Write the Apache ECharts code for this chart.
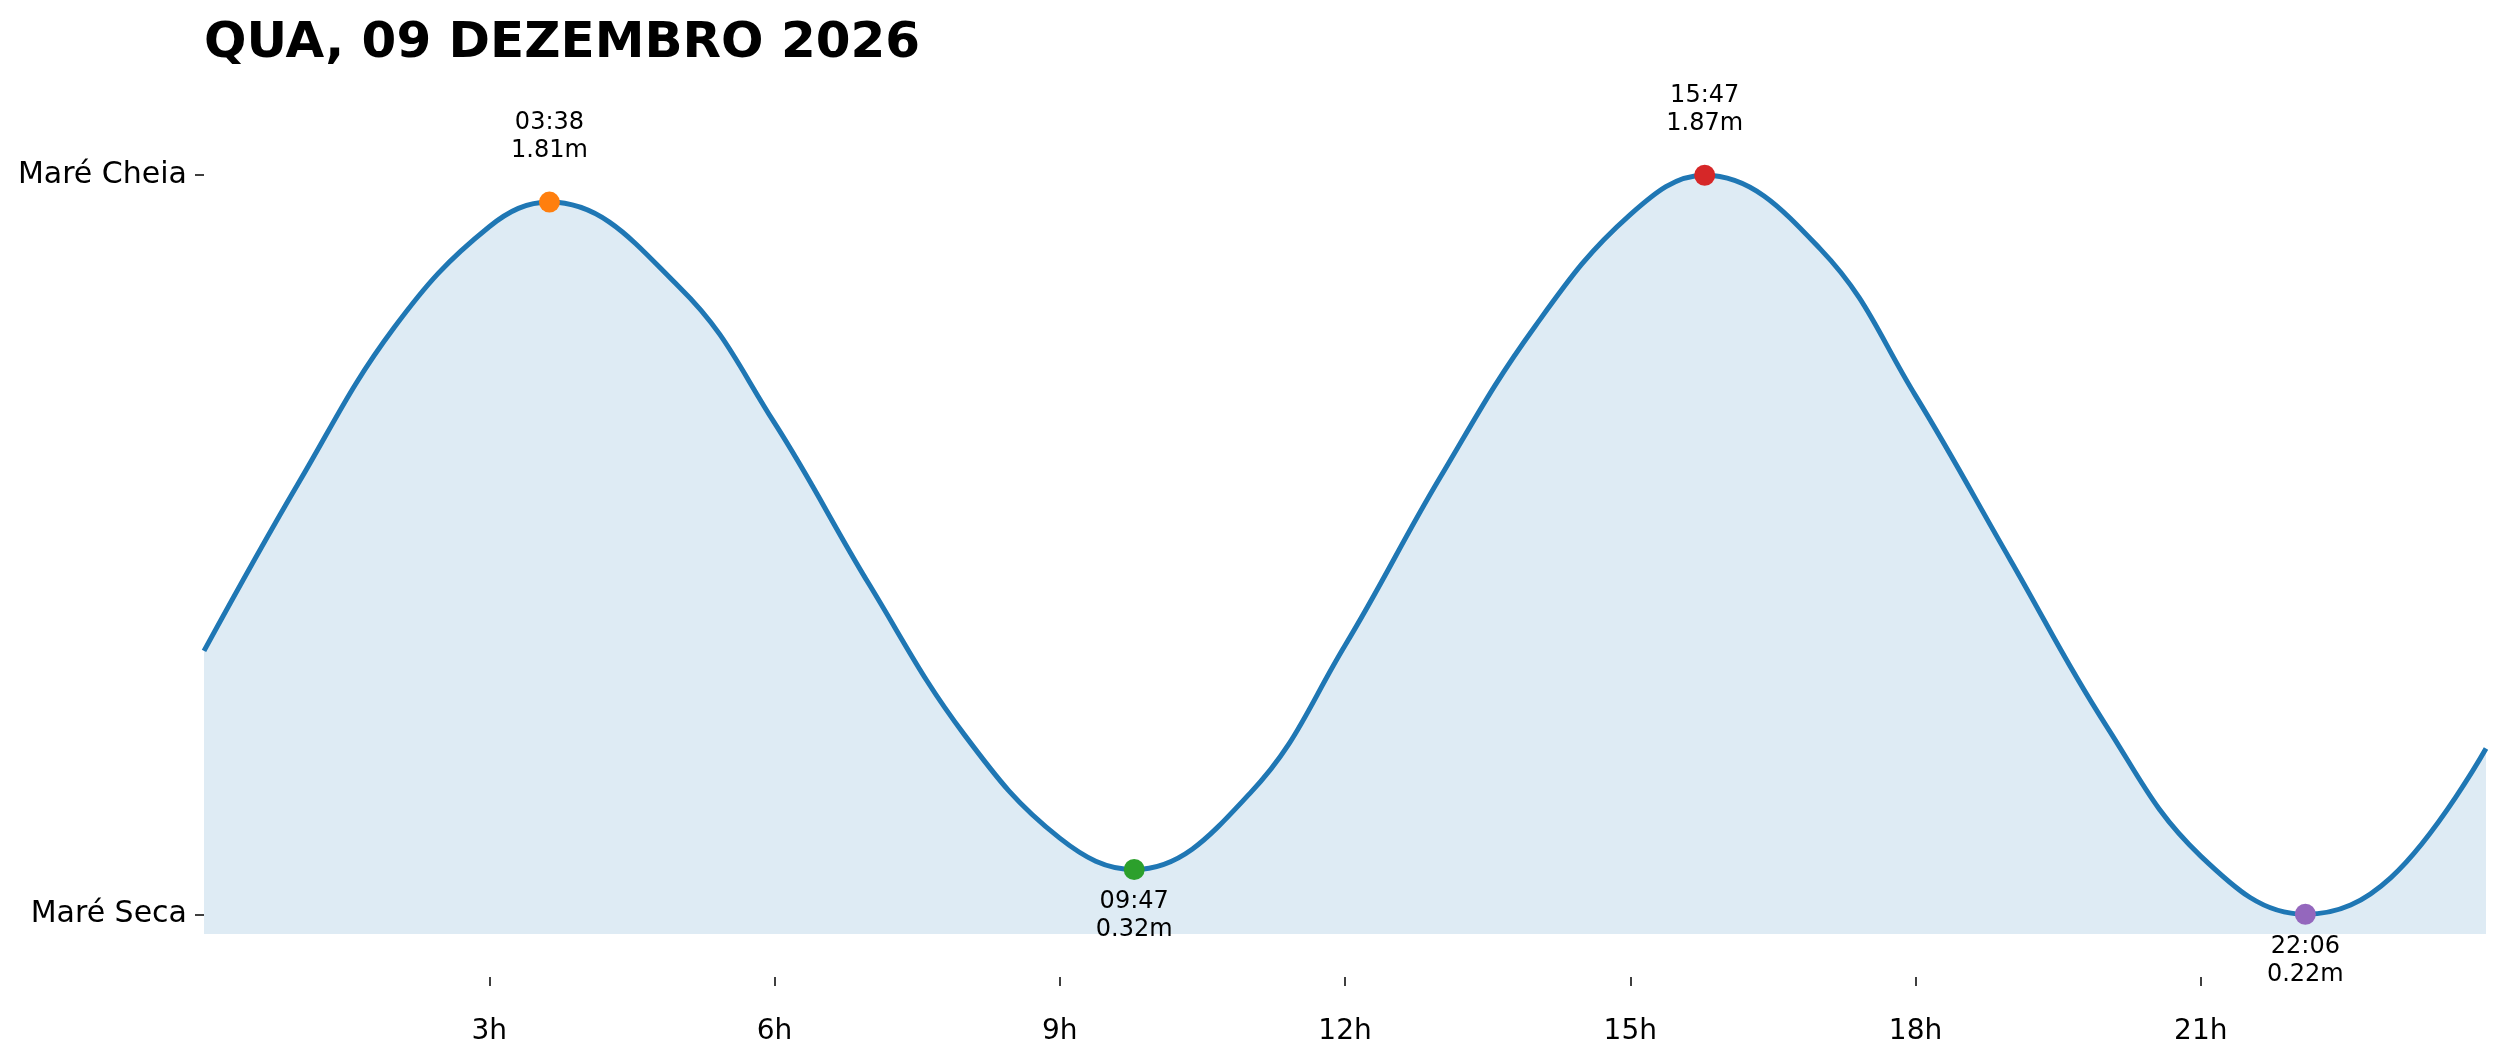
<!DOCTYPE html>
<html>
<head>
<meta charset="utf-8">
<script src="https://cdn.jsdelivr.net/npm/echarts@6/dist/echarts.min.js"></script>
<style>
html, body { margin: 0; padding: 0; background: #fff; }
#tide { width: 2501px; height: 1062px; }
</style>
</head>
<body>
<div id="tide"></div>
<script>
// tide curve (hour of day, height in m)
var hours   = [0, 1, 2, 3, 3.633, 5, 6, 7, 8, 9, 9.783, 11, 12, 13, 14, 15, 15.783,
               17, 18, 19, 20, 21, 22.1, 23, 24];
var heights = [0.808, 1.185, 1.53, 1.755, 1.81, 1.62, 1.317, 0.955, 0.62, 0.39, 0.32, 0.49, 0.82,
               1.195, 1.533, 1.782, 1.87, 1.705, 1.378, 1.01, 0.643, 0.35, 0.22, 0.302, 0.59];

// high / low water
var extremeTimes   = ['03:38', '09:47', '15:47', '22:06'];
var extremeHours   = [3.633, 9.783, 15.783, 22.1];
var extremeHeights = [1.81, 0.32, 1.87, 0.22];
var extremeIsHigh  = [true, false, true, false];
var extremeColors  = ['#ff7f0e', '#2ca02c', '#d62728', '#9467bd'];

var xTicks = [3, 6, 9, 12, 15, 18, 21];
var yTicks = [0.22, 1.87];
var yTickLabels = ['Maré Seca', 'Maré Cheia'];

var chartTitle = 'QUA, 09 DEZEMBRO 2026';

var font = 'DejaVu Sans';

var curve = hours.map(function (h, i) { return [h, heights[i]]; });

var extremes = extremeHours.map(function (h, i) {
    var high = extremeIsHigh[i];
    return {
        value: [h, extremeHeights[i]],
        itemStyle: { color: extremeColors[i], opacity: 1 },
        label: {
            position: high ? 'top' : 'bottom',
            distance: high ? 27 : 8,
            formatter: extremeTimes[i] + '\n' + extremeHeights[i].toFixed(2) + 'm'
        }
    };
});

var myChart = echarts.init(document.getElementById('tide'));

var option = {
    backgroundColor: '#fff',
    animation: false,
    title: {
        text: chartTitle,
        left: 204,
        top: 19,
        padding: 0,
        textStyle: { fontFamily: font, fontSize: 50, fontWeight: 'bold', color: '#000' }
    },
    grid: { left: 204, right: 15, top: 117, bottom: 128, containLabel: false },
    xAxis: {
        type: 'value',
        min: 0,
        max: 24,
        offset: 43,
        axisLine: { show: false },
        splitLine: { show: false },
        axisTick: { show: true, customValues: xTicks, length: 9, lineStyle: { color: '#000', width: 1.5 } },
        axisLabel: {
            customValues: xTicks,
            margin: 41,
            fontFamily: font,
            fontSize: 28,
            color: '#000',
            formatter: function (v) { return v + 'h'; }
        }
    },
    yAxis: {
        type: 'value',
        min: 0.176,
        max: 2.0,
        axisLine: { show: false },
        splitLine: { show: false },
        axisTick: { show: true, customValues: yTicks, length: 9, lineStyle: { color: '#000', width: 1.5 } },
        axisLabel: {
            customValues: yTicks,
            margin: 17,
            fontFamily: font,
            fontSize: 30,
            color: '#000',
            formatter: function (v) {
                var i = yTicks.indexOf(v);
                return i >= 0 ? yTickLabels[i] : '';
            }
        }
    },
    series: [
        {
            type: 'line',
            data: curve,
            smooth: 0.4,
            showSymbol: false,
            lineStyle: { color: '#1f77b4', width: 5 },
            areaStyle: { color: 'rgba(31,119,180,0.15)', opacity: 1, origin: 'start' },
            z: 2
        },
        {
            type: 'scatter',
            data: extremes,
            symbolSize: 21,
            label: {
                show: true,
                fontFamily: font,
                fontSize: 24,
                lineHeight: 28,
                color: '#000',
                align: 'center'
            },
            z: 5
        }
    ]
};

myChart.setOption(option);
</script>
</body>
</html>
